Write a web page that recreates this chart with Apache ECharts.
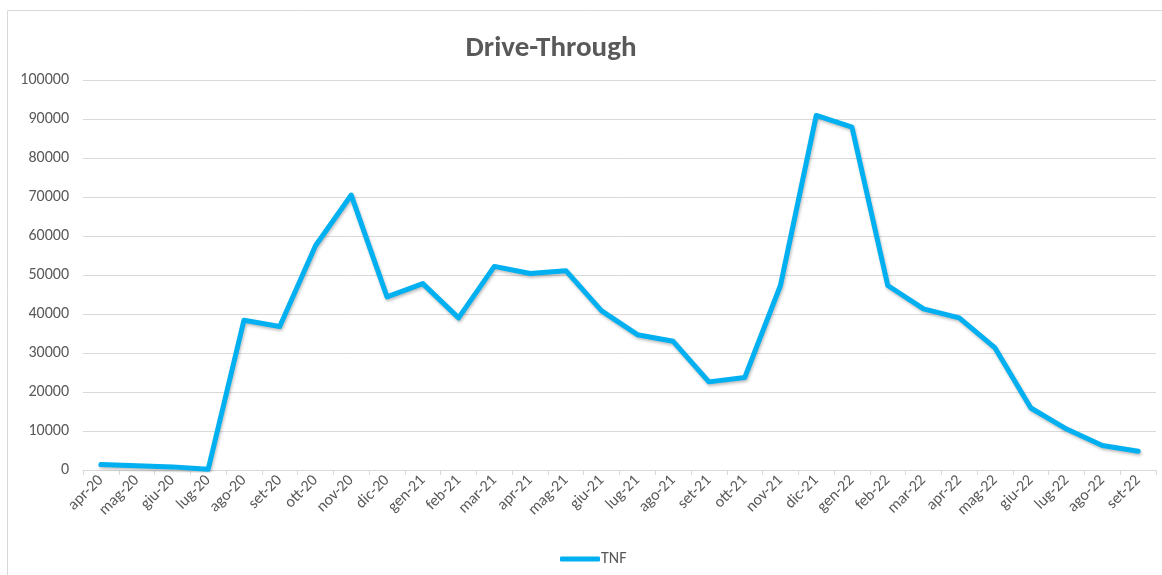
<!DOCTYPE html>
<html>
<head>
<meta charset="utf-8">
<script src="https://cdn.jsdelivr.net/npm/echarts@6/dist/echarts.min.js"></script>
<style>
html,body{margin:0;padding:0;background:#fff;}
#chart{width:1162px;height:575px;}
</style>
</head>
<body>
<div id="chart"></div>
<script>
var categories = ['apr-20','mag-20','giu-20','lug-20','ago-20','set-20','ott-20','nov-20','dic-20','gen-21','feb-21','mar-21','apr-21','mag-21','giu-21','lug-21','ago-21','set-21','ott-21','nov-21','dic-21','gen-22','feb-22','mar-22','apr-22','mag-22','giu-22','lug-22','ago-22','set-22'];
var tnfValues = [1400,1100,800,200,38400,36800,57500,70500,44400,47800,39000,52200,50400,51100,40800,34700,33000,22600,23700,47300,90900,87900,47300,41300,39000,31300,15900,10500,6300,4800];
var seriesName = 'TNF';
var titleText = 'Drive-Through';

var font = 'Carlito, Lato, "Liberation Sans", sans-serif';
var chart = echarts.init(document.getElementById('chart'));
chart.setOption({
  animation: false,
  backgroundColor: '#fff',
  graphic: [{
    type: 'rect',
    shape: {x: 7.5, y: 10.5, width: 1170, height: 580},
    style: {fill: 'none', stroke: '#d9d9d9', lineWidth: 1},
    silent: true
  }],
  title: {
    text: titleText,
    left: 546,
    textAlign: 'center',
    top: 29,
    textStyle: {fontFamily: font, fontSize: 29, fontWeight: 'bold', color: '#595959'}
  },
  legend: {
    data: [seriesName],
    left: 555,
    top: 546,
    itemWidth: 40,
    itemHeight: 5,
    itemGap: 10,
    icon: 'roundRect',
    textStyle: {fontFamily: font, fontSize: 16, color: '#595959', padding: [0,0,0,-4]}
  },
  grid: {left: 83, right: 6, top: 80, bottom: 105, containLabel: false},
  xAxis: {
    type: 'category',
    data: categories,
    boundaryGap: true,
    axisLine: {lineStyle: {color: '#d9d9d9', width: 1}},
    axisTick: {show: true, interval: 0, length: 5, lineStyle: {color: '#d9d9d9'}},
    axisLabel: {interval: 0, rotate: 45, fontFamily: font, fontSize: 16, color: '#595959', margin: 8}
  },
  yAxis: {
    type: 'value',
    min: 0,
    max: 100000,
    interval: 10000,
    axisLine: {show: false},
    axisTick: {show: false},
    splitLine: {lineStyle: {color: '#d9d9d9', width: 1}},
    axisLabel: {fontFamily: font, fontSize: 16, color: '#595959', margin: 14,
      formatter: function (v) { return String(v); }}
  },
  series: [{
    name: seriesName,
    type: 'line',
    data: tnfValues,
    symbol: 'none',
    lineStyle: {color: '#00b0f0', width: 5, cap: 'round', join: 'round',
      shadowColor: 'rgba(0,0,0,0.25)', shadowBlur: 3, shadowOffsetX: 1, shadowOffsetY: 2},
    itemStyle: {color: '#00b0f0'}
  }]
});
</script>
</body>
</html>
